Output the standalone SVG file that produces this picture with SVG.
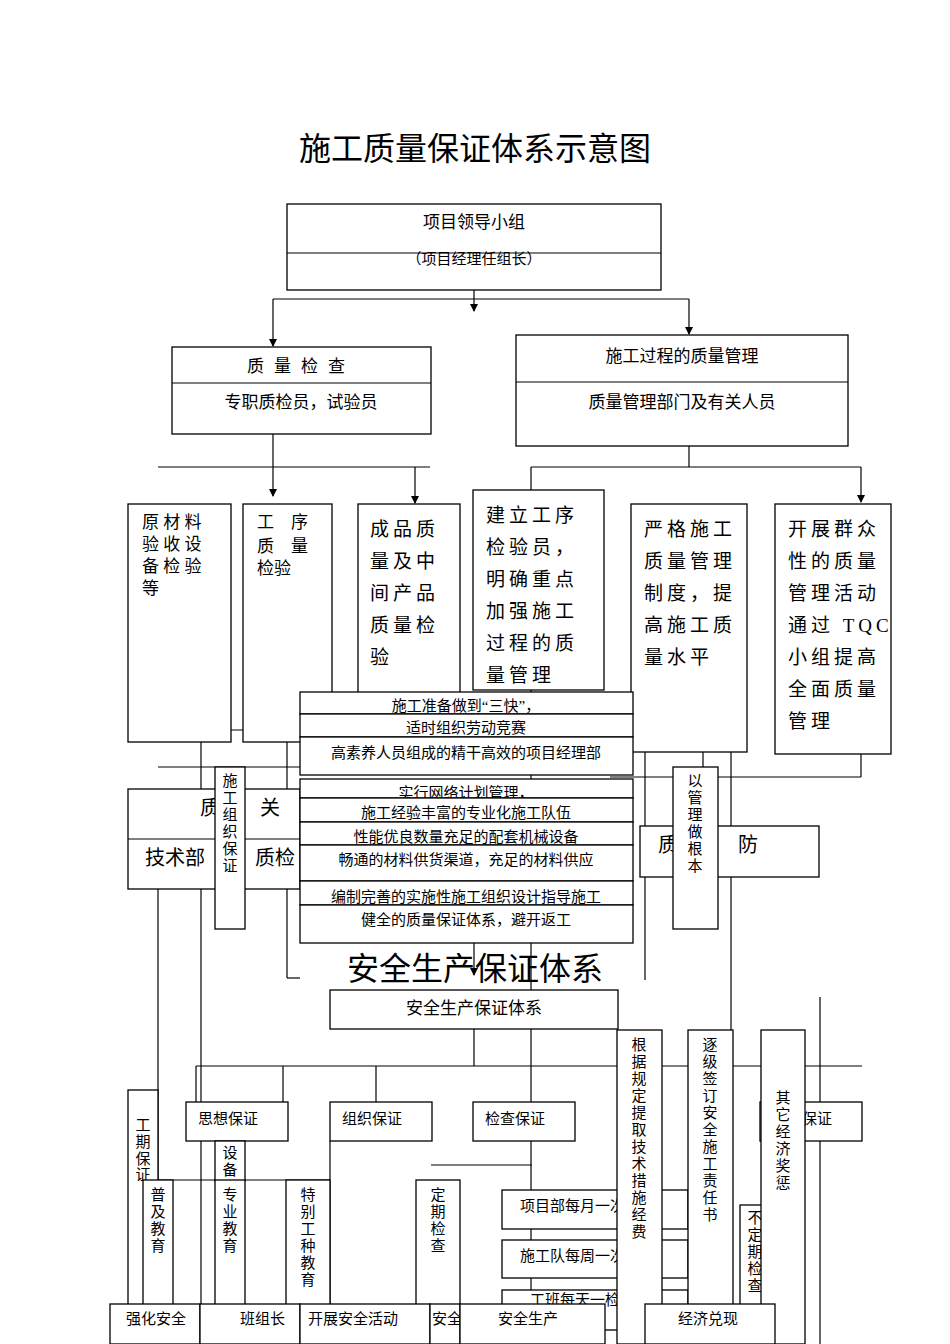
<svg xmlns="http://www.w3.org/2000/svg" width="950" height="1344" viewBox="0 0 950 1344">
<defs><marker id="ah" markerWidth="8" markerHeight="8" refX="7" refY="4" orient="auto" markerUnits="userSpaceOnUse"><path d="M0,0 L8,4 L0,8 z" fill="#000"/></marker></defs>
<style>
rect{fill:#fff;stroke:#000;stroke-width:1.3}
line{stroke:#000;stroke-width:1.2;fill:none}
text{font-family:"Liberation Serif","Noto Sans CJK SC",serif;font-size:17px;fill:#000}
.m{text-anchor:middle}
.s{font-size:15px}
.big{font-size:32px}
.c{font-size:19px;letter-spacing:4px}
</style>
<rect x="0" y="0" width="950" height="1344" style="fill:#fff;stroke:none"/>
<text class="m big" x="475" y="160">施工质量保证体系示意图</text>
<g id="connectors">
<line x1="474" y1="276" x2="474" y2="311" marker-end="url(#ah)"/>
<line x1="273" y1="299" x2="689" y2="299"/>
<line x1="273" y1="299" x2="273" y2="346" marker-end="url(#ah)"/>
<line x1="689" y1="299" x2="689" y2="334" marker-end="url(#ah)"/>
<line x1="273" y1="434" x2="273" y2="496" marker-end="url(#ah)"/>
<line x1="158" y1="467" x2="430" y2="467"/>
<line x1="415" y1="467" x2="415" y2="503" marker-end="url(#ah)"/>
<line x1="689" y1="446" x2="689" y2="467"/>
<line x1="531" y1="467" x2="861" y2="467"/>
<line x1="531" y1="467" x2="531" y2="509" marker-end="url(#ah)"/>
<line x1="861" y1="467" x2="861" y2="502" marker-end="url(#ah)"/>
<line x1="158" y1="715" x2="158" y2="740"/>
<line x1="201" y1="672" x2="201" y2="1344"/>
<line x1="731" y1="672" x2="731" y2="1344"/>
<line x1="158" y1="767" x2="300" y2="767"/>
<line x1="158" y1="889" x2="158" y2="1344"/>
<line x1="230" y1="730" x2="300" y2="730"/>
<line x1="287" y1="730" x2="287" y2="978"/>
<line x1="287" y1="978" x2="300" y2="978"/>
<line x1="633" y1="730" x2="645" y2="730"/>
<line x1="645" y1="730" x2="645" y2="980"/>
<line x1="633" y1="750" x2="747" y2="750"/>
<line x1="610" y1="777" x2="861" y2="777"/>
<line x1="861" y1="754" x2="861" y2="777"/>
<line x1="703" y1="740" x2="703" y2="767"/>
<line x1="474" y1="943" x2="474" y2="975" marker-end="url(#ah)"/>
<line x1="474" y1="1029" x2="474" y2="1066"/>
<line x1="196" y1="1066" x2="862" y2="1066"/>
<line x1="196" y1="1066" x2="196" y2="1102"/>
<line x1="283" y1="1066" x2="283" y2="1102"/>
<line x1="376" y1="1066" x2="376" y2="1102"/>
<line x1="820" y1="997" x2="820" y2="1344"/>
<line x1="431" y1="1165" x2="532" y2="1165"/>
<line x1="157" y1="1180" x2="330" y2="1180"/>
<line x1="330" y1="1141" x2="330" y2="1304"/>
<line x1="531" y1="690" x2="531" y2="1344"/>
</g>
<g id="n1"><rect x="287" y="204" width="374" height="86"/><line x1="287" y1="253" x2="661" y2="253"/><text class="m" x="474" y="228">项目领导小组</text><text class="m s" x="474" y="264">（项目经理任组长）</text></g>
<g id="n2"><rect x="172" y="347" width="259" height="87"/><line x1="172" y1="383" x2="431" y2="383"/><text class="m" x="301" y="372" style="letter-spacing:10px">质量检查</text><text class="m" x="301" y="408">专职质检员，试验员</text></g>
<g id="n3"><rect x="516" y="335" width="332" height="111"/><line x1="516" y1="382" x2="848" y2="382"/><text class="m" x="682" y="362">施工过程的质量管理</text><text class="m" x="682" y="408">质量管理部门及有关人员</text></g>
<g id="c1"><rect x="128" y="504" width="103" height="238"/><text x="142" y="528">原 材 料</text><text x="142" y="550">验 收 设</text><text x="142" y="572">备 检 验</text><text x="142" y="594">等</text></g>
<g id="c2"><rect x="243" y="504" width="89" height="238"/><text x="257" y="528">工　序</text><text x="257" y="552">质　量</text><text x="257" y="574">检验</text></g>
<g id="c3"><rect x="358" y="504" width="102" height="238"/><text class="c" x="370" y="536">成品质</text><text class="c" x="370" y="568">量及中</text><text class="c" x="370" y="600">间产品</text><text class="c" x="370" y="632">质量检</text><text class="c" x="370" y="664">验</text></g>
<g id="c4"><rect x="473" y="490" width="131" height="200"/><text class="c" x="486" y="522">建立工序</text><text class="c" x="486" y="554">检验员，</text><text class="c" x="486" y="586">明确重点</text><text class="c" x="486" y="618">加强施工</text><text class="c" x="486" y="650">过程的质</text><text class="c" x="486" y="682">量管理</text></g>
<g id="c5"><rect x="631" y="504" width="116" height="248"/><text class="c" x="644" y="536">严格施工</text><text class="c" x="644" y="568">质量管理</text><text class="c" x="644" y="600">制度，提</text><text class="c" x="644" y="632">高施工质</text><text class="c" x="644" y="664">量水平</text></g>
<g id="c6"><rect x="775" y="504" width="116" height="250"/><text class="c" x="788" y="536">开展群众</text><text class="c" x="788" y="568">性的质量</text><text class="c" x="788" y="600">管理活动</text><text class="c" x="788" y="632">通过 TQC</text><text class="c" x="788" y="664">小组提高</text><text class="c" x="788" y="696">全面质量</text><text class="c" x="788" y="728">管理</text></g>
<g id="tech"><rect x="128" y="789" width="172" height="100"/><line x1="128" y1="839" x2="300" y2="839"/><text x="200" y="815" style="font-size:20px">质　　关</text><text x="145" y="865" style="font-size:20px">技术部</text><text x="255" y="865" style="font-size:20px">质检</text></g>
<g id="prev"><rect x="640" y="826" width="179" height="51"/><text x="658" y="852" style="font-size:20px">质　　　防</text></g>
<g id="org"><rect x="215" y="767" width="30" height="162"/><text class="m s" x="230" y="786">施</text><text class="m s" x="230" y="803">工</text><text class="m s" x="230" y="820">组</text><text class="m s" x="230" y="837">织</text><text class="m s" x="230" y="854">保</text><text class="m s" x="230" y="871">证</text></g>
<g id="mgmt"><rect x="673" y="767" width="45" height="162"/><text class="m s" x="695" y="786">以</text><text class="m s" x="695" y="803">管</text><text class="m s" x="695" y="820">理</text><text class="m s" x="695" y="837">做</text><text class="m s" x="695" y="854">根</text><text class="m s" x="695" y="871">本</text></g>
<g id="stack">
<rect x="300" y="692" width="333" height="22"/><text class="m s" x="466" y="711">施工准备做到“三快”，</text>
<rect x="300" y="714" width="333" height="23"/><text class="m s" x="466" y="733">适时组织劳动竞赛</text>
<rect x="300" y="737" width="333" height="38"/><text class="m s" x="466" y="758">高素养人员组成的精干高效的项目经理部</text>
<rect x="300" y="779" width="333" height="19"/><text class="m s" x="466" y="798">实行网络计划管理，</text>
<rect x="300" y="798" width="333" height="24"/><text class="m s" x="466" y="818">施工经验丰富的专业化施工队伍</text>
<rect x="300" y="822" width="333" height="23"/><text class="m s" x="466" y="842">性能优良数量充足的配套机械设备</text>
<rect x="300" y="845" width="333" height="36"/><text class="m s" x="466" y="865">畅通的材料供货渠道，充足的材料供应</text>
<rect x="300" y="881" width="333" height="24"/><text class="m s" x="466" y="902">编制完善的实施性施工组织设计指导施工</text>
<rect x="300" y="905" width="333" height="38"/><text class="m s" x="466" y="925">健全的质量保证体系，避开返工</text>
</g>
<text class="m big" x="475" y="980">安全生产保证体系</text>
<g id="safe"><rect x="330" y="990" width="288" height="39"/><text class="m" x="474" y="1014">安全生产保证体系</text></g>
<g id="b1"><rect x="186" y="1102" width="102" height="39"/><text x="198" y="1124" class="s">思想保证</text></g>
<g id="b2"><rect x="330" y="1102" width="102" height="39"/><text x="342" y="1124" class="s">组织保证</text></g>
<g id="b3"><rect x="473" y="1102" width="102" height="39"/><text x="485" y="1124" class="s">检查保证</text></g>
<g id="b4"><rect x="760" y="1102" width="102" height="39"/><text x="772" y="1124" class="s">经济保证</text></g>
<g id="gq"><rect x="128" y="1090" width="30" height="215"/><text class="m s" x="143" y="1130">工</text><text class="m s" x="143" y="1147">期</text><text class="m s" x="143" y="1164">保</text><text class="m s" x="143" y="1180">证</text></g>
<g id="sb"><rect x="215" y="1141" width="30" height="40"/><text class="m s" x="230" y="1158">设</text><text class="m s" x="230" y="1175">备</text></g>
<g id="e1"><rect x="143" y="1180" width="30" height="125"/><text class="m s" x="158" y="1200">普</text><text class="m s" x="158" y="1217">及</text><text class="m s" x="158" y="1234">教</text><text class="m s" x="158" y="1251">育</text></g>
<g id="e2"><rect x="215" y="1180" width="30" height="125"/><text class="m s" x="230" y="1200">专</text><text class="m s" x="230" y="1217">业</text><text class="m s" x="230" y="1234">教</text><text class="m s" x="230" y="1251">育</text></g>
<g id="e3"><rect x="286" y="1180" width="44" height="125"/><text class="m s" x="308" y="1200">特</text><text class="m s" x="308" y="1217">别</text><text class="m s" x="308" y="1234">工</text><text class="m s" x="308" y="1251">种</text><text class="m s" x="308" y="1268">教</text><text class="m s" x="308" y="1285">育</text></g>
<g id="dq"><rect x="416" y="1180" width="44" height="125"/><text class="m s" x="438" y="1200">定</text><text class="m s" x="438" y="1217">期</text><text class="m s" x="438" y="1234">检</text><text class="m s" x="438" y="1251">查</text></g>
<g id="k1"><rect x="502" y="1190" width="186" height="39"/><text x="520" y="1211" class="s">项目部每月一次检查</text></g>
<g id="k2"><rect x="502" y="1240" width="186" height="38"/><text x="520" y="1261" class="s">施工队每周一次检查</text></g>
<g id="k3"><rect x="502" y="1290" width="186" height="40"/><text x="530" y="1305" class="s">工班每天一检</text></g>
<g id="bd"><rect x="740" y="1205" width="30" height="100"/><text class="m s" x="755" y="1223">不</text><text class="m s" x="755" y="1240">定</text><text class="m s" x="755" y="1257">期</text><text class="m s" x="755" y="1274">检</text><text class="m s" x="755" y="1291">查</text></g>
<g id="t1"><rect x="617" y="1030" width="45" height="314"/><text class="m s" x="639" y="1050">根</text><text class="m s" x="639" y="1067">据</text><text class="m s" x="639" y="1084">规</text><text class="m s" x="639" y="1101">定</text><text class="m s" x="639" y="1118">提</text><text class="m s" x="639" y="1135">取</text><text class="m s" x="639" y="1152">技</text><text class="m s" x="639" y="1169">术</text><text class="m s" x="639" y="1186">措</text><text class="m s" x="639" y="1203">施</text><text class="m s" x="639" y="1220">经</text><text class="m s" x="639" y="1237">费</text></g>
<g id="t2"><rect x="688" y="1030" width="45" height="314"/><text class="m s" x="710" y="1050">逐</text><text class="m s" x="710" y="1067">级</text><text class="m s" x="710" y="1084">签</text><text class="m s" x="710" y="1101">订</text><text class="m s" x="710" y="1118">安</text><text class="m s" x="710" y="1135">全</text><text class="m s" x="710" y="1152">施</text><text class="m s" x="710" y="1169">工</text><text class="m s" x="710" y="1186">责</text><text class="m s" x="710" y="1203">任</text><text class="m s" x="710" y="1220">书</text></g>
<g id="t3"><rect x="761" y="1030" width="44" height="314"/><text class="m s" x="783" y="1103">其</text><text class="m s" x="783" y="1120">它</text><text class="m s" x="783" y="1137">经</text><text class="m s" x="783" y="1154">济</text><text class="m s" x="783" y="1171">奖</text><text class="m s" x="783" y="1188">惩</text></g>
<g id="bottom">
<rect x="110" y="1304" width="90" height="40"/><text x="126" y="1324" class="s">强化安全</text>
<rect x="200" y="1304" width="100" height="40"/><text x="240" y="1324" class="s">班组长</text>
<rect x="300" y="1304" width="130" height="40"/><text x="308" y="1324" class="s">开展安全活动</text>
<rect x="430" y="1304" width="30" height="40"/><text x="432" y="1324" class="s">安全</text>
<rect x="460" y="1304" width="145" height="40"/><text x="498" y="1324" class="s">安全生产</text>
<rect x="645" y="1304" width="130" height="40"/><text x="678" y="1324" class="s">经济兑现</text>
</g>
</svg>
